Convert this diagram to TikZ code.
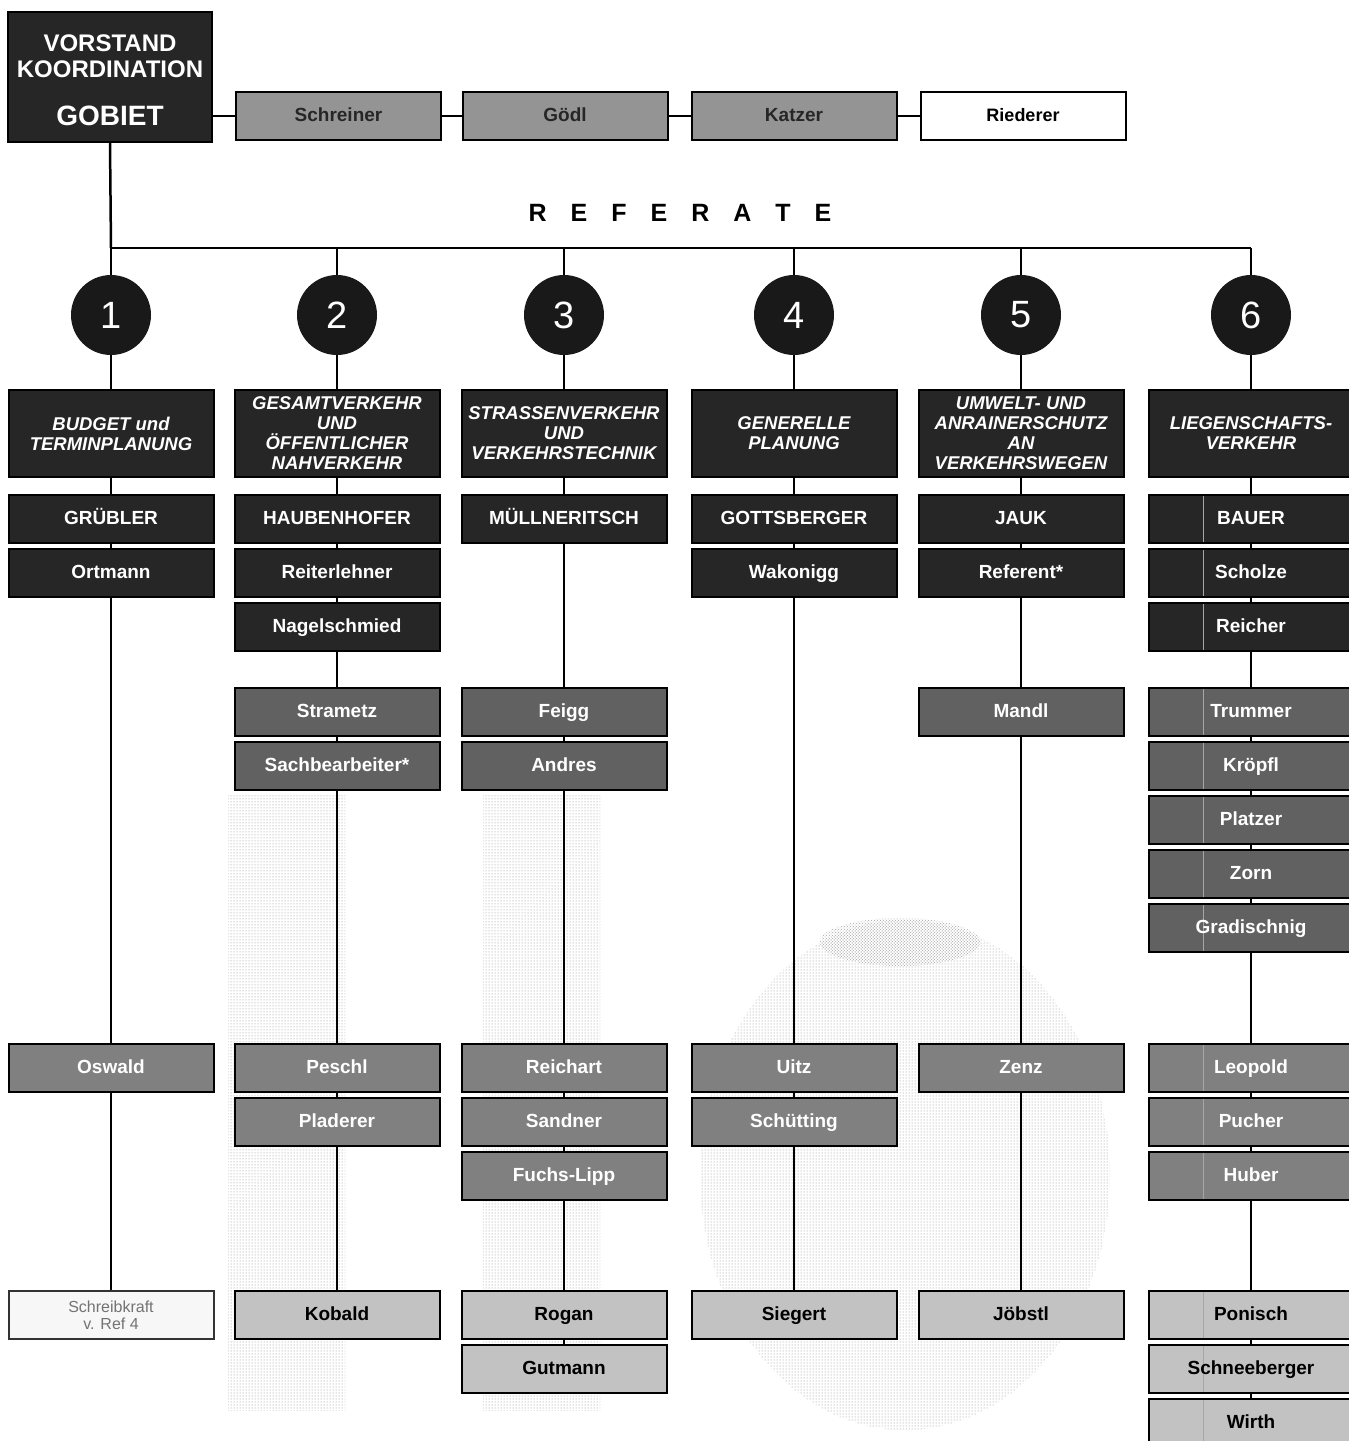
\documentclass[tikz,border=0pt]{standalone}
\usepackage{fontspec}
\setmainfont{Liberation Sans}
\usetikzlibrary{patterns}
\begin{document}
\begin{tikzpicture}[x=1pt,y=-1pt,
  bx/.style={draw=black, line width=2pt, minimum width=205pt, minimum height=48pt, inner sep=0pt,
    text height=14pt, text depth=4pt,
    font=\fontsize{19}{20}\selectfont\bfseries},
  dk/.style={bx, fill=black!85, text=white},
  ttl/.style={draw=black, line width=2pt, minimum width=205pt, minimum height=87pt, inner sep=0pt,
    fill=black!85, text=white, align=center, font=\fontsize{18.5}{20}\selectfont\bfseries\itshape},
  md/.style={bx, fill=black!62, text=white},
  lo/.style={bx, fill=black!50, text=white},
  lt/.style={bx, fill=black!24, text=black},
  tg/.style={bx, fill=black!42, text=black!85},
  wh/.style={bx, fill=white, text=black},
  fa/.style={draw=black!80, line width=2pt, minimum width=205pt, minimum height=48pt, inner sep=0pt,
    fill=black!3, text=black!55, align=center, font=\fontsize{16}{17}\selectfont},
  num/.style={circle, fill=black!90, minimum size=80pt, inner sep=0pt, text=white,
    font=\fontsize{38}{38}\selectfont},
  vtx/.style={inner sep=0pt, text=white, font=\bfseries},
  ln/.style={line width=2.5pt},
  dv/.style={path picture={\draw[line width=1pt, black!35]
     ([xshift=-48pt]path picture bounding box.north) -- ([xshift=-48pt]path picture bounding box.south);}},
  stip/.style={pattern=dots, pattern color=black!45},
]
\useasboundingbox (0,0) rectangle (1349,1441);
\clip (0,0) rectangle (1349,1441);
\fill[white] (0,0) rectangle (1349,1441);

% background stipple
\fill[stip] (228,795) rectangle (345,1410);
\fill[stip] (483,795) rectangle (600,1410);
\fill[stip] (905,1175) ellipse [x radius=205pt, y radius=255pt];
\fill[pattern=crosshatch dots, pattern color=black!35] (900,942) ellipse [x radius=80pt, y radius=24pt];

% head
\node[draw=black, line width=2pt, inner sep=0pt, fill=black!85, minimum width=204pt, minimum height=130pt] (vor) at (110,77) {};
\node[vtx, font=\fontsize{24}{24}\selectfont\bfseries] (vorA) at (110,43) {VORSTAND};
\node[vtx, font=\fontsize{24}{24}\selectfont\bfseries] (vorB) at (110,69) {KOORDINATION};
\node[vtx, font=\fontsize{28}{28}\selectfont\bfseries] (vorC) at (110,116) {GOBIET};

\node[tg] (s1) at (338.5,116) {Schreiner};
\node[tg] (s2) at (565,116) {Gödl};
\node[tg] (s3) at (794,116) {Katzer};
\node[wh, font=\fontsize{18}{19}\selectfont\bfseries] (s4) at (1023,116) {Riederer};

\node[font=\fontsize{25}{25}\selectfont\bfseries] (refe) at (680,213)
  {R\hspace{24pt}E\hspace{24pt}F\hspace{24pt}E\hspace{24pt}R\hspace{24pt}A\hspace{24pt}T\hspace{24pt}E};

\coordinate (j1) at (111,248);
\coordinate (j2) at (337,248);
\coordinate (j3) at (564,248);
\coordinate (j4) at (794,248);
\coordinate (j5) at (1021,248);
\coordinate (j6) at (1251,248);

% circles
\node[num] (n1) at (111,315) {1};
\node[num] (n2) at (337,315) {2};
\node[num] (n3) at (564,315) {3};
\node[num] (n4) at (794,315) {4};
\node[num] (n5) at (1021,315) {5};
\node[num] (n6) at (1251,315) {6};

% column 1
\node[ttl] (t1) at (111,433.5) {BUDGET und\\TERMINPLANUNG};
\node[dk] (a1) at (111,519) {GRÜBLER};
\node[dk] (a2) at (111,573) {Ortmann};
\node[lo] (a3) at (111,1068) {Oswald};
\node[fa] (a4) at (111,1315) {Schreibkraft\\v. Ref 4};

% column 2
\node[ttl] (t2) at (337,433.5) {GESAMTVERKEHR\\UND\\ÖFFENTLICHER\\NAHVERKEHR};
\node[dk] (b1) at (337,519) {HAUBENHOFER};
\node[dk] (b2) at (337,573) {Reiterlehner};
\node[dk] (b3) at (337,627) {Nagelschmied};
\node[md] (b4) at (337,712) {Strametz};
\node[md] (b5) at (337,766) {Sachbearbeiter*};
\node[lo] (b6) at (337,1068) {Peschl};
\node[lo] (b7) at (337,1122) {Pladerer};
\node[lt] (b8) at (337,1315) {Kobald};

% column 3
\node[ttl] (t3) at (564,433.5) {STRASSENVERKEHR\\UND\\VERKEHRSTECHNIK};
\node[dk] (c1) at (564,519) {MÜLLNERITSCH};
\node[md] (c2) at (564,712) {Feigg};
\node[md] (c3) at (564,766) {Andres};
\node[lo] (c4) at (564,1068) {Reichart};
\node[lo] (c5) at (564,1122) {Sandner};
\node[lo] (c6) at (564,1176) {Fuchs-Lipp};
\node[lt] (c7) at (564,1315) {Rogan};
\node[lt] (c8) at (564,1369) {Gutmann};

% column 4
\node[ttl] (t4) at (794,433.5) {GENERELLE\\PLANUNG};
\node[dk] (d1) at (794,519) {GOTTSBERGER};
\node[dk] (d2) at (794,573) {Wakonigg};
\node[lo] (d3) at (794,1068) {Uitz};
\node[lo] (d4) at (794,1122) {Schütting};
\node[lt] (d5) at (794,1315) {Siegert};

% column 5
\node[ttl] (t5) at (1021,433.5) {UMWELT- UND\\ANRAINERSCHUTZ\\AN\\VERKEHRSWEGEN};
\node[dk] (e1) at (1021,519) {JAUK};
\node[dk] (e2) at (1021,573) {Referent*};
\node[md] (e3) at (1021,712) {Mandl};
\node[lo] (e4) at (1021,1068) {Zenz};
\node[lt] (e5) at (1021,1315) {Jöbstl};

% column 6
\node[ttl] (t6) at (1251,433.5) {LIEGENSCHAFTS-\\VERKEHR};
\node[dk,dv] (f1) at (1251,519) {BAUER};
\node[dk,dv] (f2) at (1251,573) {Scholze};
\node[dk,dv] (f3) at (1251,627) {Reicher};
\node[md,dv] (f4) at (1251,712) {Trummer};
\node[md,dv] (f5) at (1251,766) {Kröpfl};
\node[md,dv] (f6) at (1251,820) {Platzer};
\node[md,dv] (f7) at (1251,874) {Zorn};
\node[md,dv] (f8) at (1251,928) {Gradischnig};
\node[lo,dv] (f9) at (1251,1068) {Leopold};
\node[lo,dv] (f10) at (1251,1122) {Pucher};
\node[lo,dv] (f11) at (1251,1176) {Huber};
\node[lt,dv] (f12) at (1251,1315) {Ponisch};
\node[lt,dv] (f13) at (1251,1369) {Schneeberger};
\node[lt,dv] (f14) at (1251,1423) {Wirth};

% connectors
\draw[ln] (vor.east |- s1) -- (s1.west);
\draw[ln] (s1.east) -- (s2.west);
\draw[ln] (s2.east) -- (s3.west);
\draw[ln] (s3.east) -- (s4.west);
\draw[ln] (vor.south) -- (j1);
\draw[ln] (j1) -- (j6);
\foreach \i in {1,...,6} {
  \draw[ln] (j\i) -- (n\i.north);
  \draw[ln] (n\i.south) -- (t\i.north);
}
\foreach \p/\q in {t1/a1,a1/a2,a2/a3,a3/a4,
                   t2/b1,b1/b2,b2/b3,b3/b4,b4/b5,b5/b6,b6/b7,b7/b8,
                   t3/c1,c1/c2,c2/c3,c3/c4,c4/c5,c5/c6,c6/c7,c7/c8,
                   t4/d1,d1/d2,d2/d3,d3/d4,d4/d5,
                   t5/e1,e1/e2,e2/e3,e3/e4,e4/e5,
                   t6/f1,f1/f2,f2/f3,f3/f4,f4/f5,f5/f6,f6/f7,f7/f8,f8/f9,f9/f10,f10/f11,f11/f12,f12/f13,f13/f14}
  \draw[ln] (\p.south) -- (\q.north);
\end{tikzpicture}
\end{document}
